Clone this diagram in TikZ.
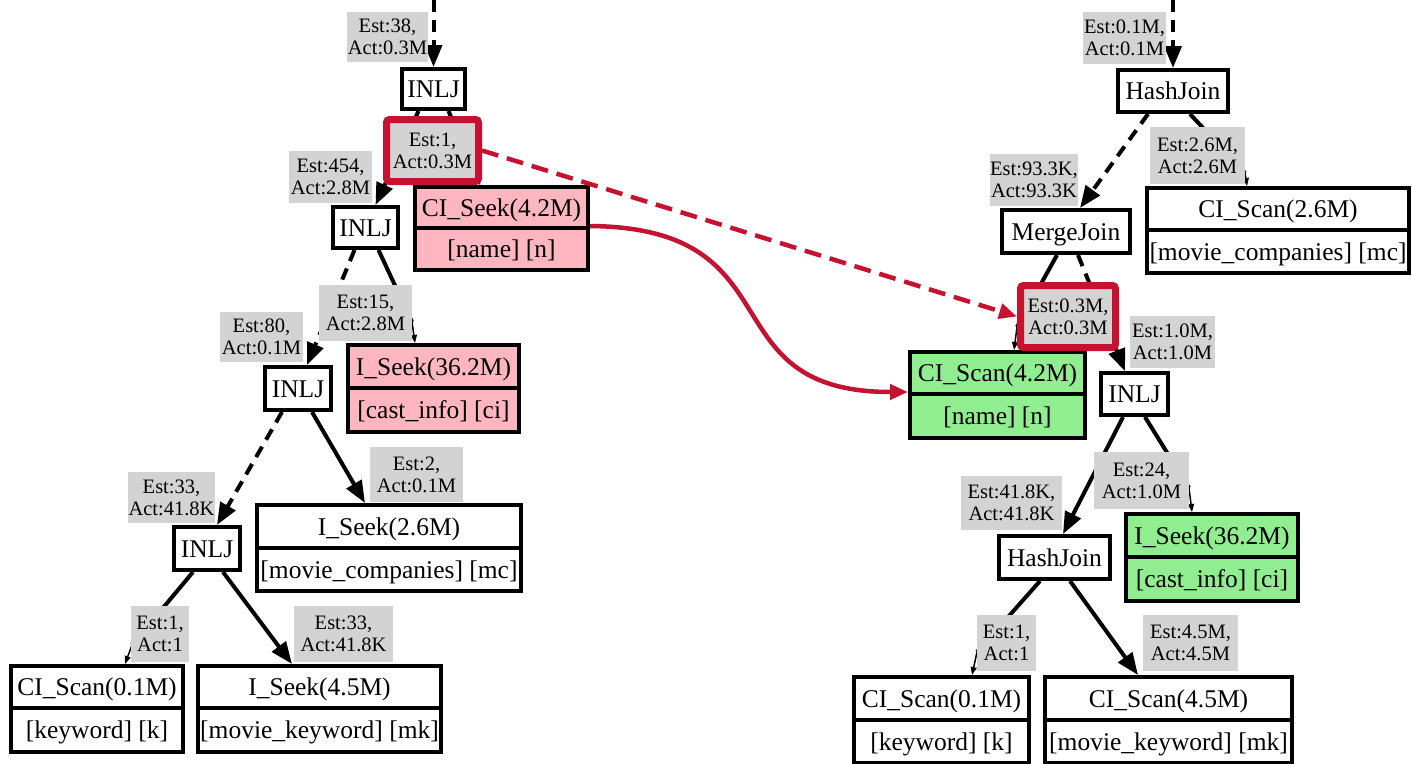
\documentclass[tikz,border=0pt]{standalone}
\usepackage{fontspec}
\setmainfont{Liberation Serif}
\usetikzlibrary{arrows.meta,backgrounds,calc}

\definecolor{pinkfill}{RGB}{255,182,193}
\definecolor{greenfill}{RGB}{144,238,144}
\definecolor{lgray}{RGB}{211,211,211}
\definecolor{hlred}{RGB}{196,18,48}

\tikzset{
  rowbox/.style={draw=black, line width=4pt, inner sep=0pt, outer sep=2pt,
    font=\fontsize{25.5}{29}\selectfont, text height=17.5pt, text depth=0pt},
  opbox/.style={rowbox, fill=white},
  estlab/.style={fill=lgray, inner sep=0pt, outer sep=0pt, align=center,
    font=\fontsize{20.5}{22}\selectfont},
  redlab/.style={estlab, draw=hlred, line width=7pt, rounded corners=3pt, outer sep=3.5pt},
  edge/.style={line width=4pt},
  dashedge/.style={edge, dash pattern=on 12pt off 8pt},
  bigtip/.style={-{Triangle[length=22pt,width=17pt]}},
  smalltip/.style={line width=1.5pt, -{Triangle[length=8pt,width=6pt]}},
  redarrow/.style={draw=hlred, line width=4.5pt, -{Triangle[length=18pt,width=15pt]}},
}

% two-row record box: name, fill, x1, y1, x2, y2 (outer edges), split y, row texts
\newcommand\leafnode[9]{%
  \node[rowbox, fill=#2, minimum width={#5-#3-4}, minimum height={#7-#4-2}]
    (#1) at ({(#3+#5)/2},{(#4+2+#7)/2}) {#8};
  \node[rowbox, fill=#2, minimum width={#5-#3-4}, minimum height={#6-2-#7}]
    (#1-b) at ({(#3+#5)/2},{(#7+#6-2)/2}) {#9};
}
% single operator box: name, x1, y1, x2, y2, text
\newcommand\opnode[6]{%
  \node[opbox, minimum width={#4-#2-4}, minimum height={#5-#3-4}]
    (#1) at ({(#2+#4)/2},{(#3+#5)/2}) {#6};
}
% grey cardinality label: name, x1, y1, x2, y2, text
\newcommand\estnode[6]{%
  \node[estlab, minimum width={#4-#2}, minimum height={#5-#3}]
    (#1) at ({(#2+#4)/2},{(#3+#5)/2}) {#6};
}
% highlighted cardinality label
\newcommand\rednode[6]{%
  \node[redlab, minimum width={#4-#2-7}, minimum height={#5-#3-7}]
    (#1) at ({(#2+#4)/2},{(#3+#5)/2}) {#6};
}

\begin{document}
\begin{tikzpicture}[x=1pt,y=-1pt]
\useasboundingbox (0,0) rectangle (1412,763);

% ---------- left plan ----------
\opnode{inlj1}{400}{67}{467}{111}{INLJ}
\opnode{inlj2}{331}{205}{400}{250}{INLJ}
\opnode{inlj3}{263}{365}{333}{412}{INLJ}
\opnode{inlj4}{172}{525}{242}{572}{INLJ}
\leafnode{cis}{pinkfill}{413}{185}{590}{272}{228}{CI\_Seek(4.2M)}{[name] [n]}
\leafnode{is362}{pinkfill}{346}{343}{521}{434}{388}{I\_Seek(36.2M)}{[cast\_info] [ci]}
\leafnode{is26}{white}{255}{503}{523}{593}{548}{I\_Seek(2.6M)}{[movie\_companies] [mc]}
\leafnode{csl}{white}{9}{664}{185}{754}{708}{CI\_Scan(0.1M)}{[keyword] [k]}
\leafnode{is45}{white}{196}{664}{443}{754}{708}{I\_Seek(4.5M)}{[movie\_keyword] [mk]}

\estnode{lb38}{347}{12}{428}{62}{Est:38,\\Act:0.3M}
\estnode{lb454}{289}{151}{372}{203}{Est:454,\\Act:2.8M}
\estnode{lb15}{319}{285}{412}{341}{Est:15,\\Act:2.8M}
\estnode{lb80}{220}{312}{303}{362}{Est:80,\\Act:0.1M}
\estnode{lb2}{370}{447}{463}{502}{Est:2,\\Act:0.1M}
\estnode{lb33a}{128}{472}{215}{523}{Est:33,\\Act:41.8K}
\estnode{lb1b}{131}{606}{189}{662}{Est:1,\\Act:1}
\estnode{lb33b}{294}{606}{393}{662}{Est:33,\\Act:41.8K}
\rednode{lb1}{383}{116}{482}{185}{Est:1,\\Act:0.3M}

% ---------- right plan ----------
\opnode{hj1}{1116}{68}{1230}{114}{HashJoin}
\opnode{mj}{1000}{208}{1132}{255}{MergeJoin}
\opnode{inljr}{1099}{371}{1170}{417}{INLJ}
\opnode{hj2}{997}{534}{1112}{581}{HashJoin}
\leafnode{cs26}{white}{1145}{186}{1411}{275}{230}{CI\_Scan(2.6M)}{[movie\_companies] [mc]}
\leafnode{csc4}{greenfill}{908}{350}{1087}{440}{394}{CI\_Scan(4.2M)}{[name] [n]}
\leafnode{gis362}{greenfill}{1124}{512}{1300}{603}{557}{I\_Seek(36.2M)}{[cast\_info] [ci]}
\leafnode{csr}{white}{852}{675}{1031}{765}{720}{CI\_Scan(0.1M)}{[keyword] [k]}
\leafnode{cs45}{white}{1043}{675}{1294}{765}{720}{CI\_Scan(4.5M)}{[movie\_keyword] [mk]}

\estnode{lr01}{1083}{12}{1166}{64}{Est:0.1M,\\Act:0.1M}
\estnode{lr26}{1150}{127}{1245}{184}{Est:2.6M,\\Act:2.6M}
\estnode{lr933}{990}{154}{1078}{206}{Est:93.3K,\\Act:93.3K}
\estnode{lr10}{1130}{316}{1215}{368}{Est:1.0M,\\Act:1.0M}
\estnode{lr24}{1094}{452}{1189}{509}{Est:24,\\Act:1.0M}
\estnode{lr418}{961}{476}{1062}{530}{Est:41.8K,\\Act:41.8K}
\estnode{lr1}{977}{615}{1036}{671}{Est:1,\\Act:1}
\estnode{lr45}{1143}{615}{1238}{671}{Est:4.5M,\\Act:4.5M}
\rednode{lr03}{1017}{282}{1119}{351}{Est:0.3M,\\Act:0.3M}

% free ends and bends of edges that pass behind their labels
\coordinate (inL) at (433.5,0);
\coordinate (inR) at (1173,0);
\coordinate (k3) at (478,182);
\coordinate (k5) at (412,322);
\coordinate (k8) at (132,645);
\coordinate (k3r) at (1245,173);
\coordinate (k4r) at (1017,327);
\coordinate (k7r) at (1189,488);
\coordinate (k8r) at (977,652);

\begin{pgfonlayer}{background}
  \fill[white] (0,0) rectangle (1412,763);
  % left plan edges
  \draw[dashedge,bigtip] (inL) -- (inlj1.north);
  \draw[edge,bigtip] ([xshift=-15pt]inlj1.south) -- ([xshift=10pt]inlj2.north);
  \draw[edge] ([xshift=15pt]inlj1.south) -- (k3);
  \draw[smalltip] (k3) -- ([xshift=-21pt]cis.north);
  \draw[dashedge,bigtip] ([xshift=-11pt]inlj2.south) -- ([xshift=9pt]inlj3.north);
  \draw[edge] ([xshift=13pt]inlj2.south) -- (k5);
  \draw[smalltip] (k5) -- ([xshift=-18.5pt]is362.north);
  \draw[dashedge,bigtip] ([xshift=-16pt]inlj3.south) -- ([xshift=10pt]inlj4.north);
  \draw[edge,bigtip] ([xshift=14pt]inlj3.south) -- ([xshift=-24pt]is26.north);
  \draw[edge] ([xshift=-14pt]inlj4.south) -- (k8);
  \draw[smalltip] (k8) -- ([xshift=28pt]csl.north);
  \draw[edge,bigtip] ([xshift=16pt]inlj4.south) -- ([xshift=-27.5pt]is45.north);
  % right plan edges
  \draw[dashedge,bigtip] (inR) -- (hj1.north);
  \draw[dashedge,bigtip] ([xshift=-25pt]hj1.south) -- ([xshift=14pt]mj.north);
  \draw[edge] ([xshift=17pt]hj1.south) -- (k3r);
  \draw[smalltip] (k3r) -- ([xshift=-31pt]cs26.north);
  \draw[edge] ([xshift=-9pt]mj.south) -- (k4r);
  \draw[smalltip] (k4r) -- ([xshift=16.5pt]csc4.north);
  \draw[dashedge,bigtip] ([xshift=12pt]mj.south) -- ([xshift=-9.5pt]inljr.north);
  \draw[edge,bigtip] ([xshift=-11.5pt]inljr.south) -- ([xshift=8.5pt]hj2.north);
  \draw[edge] ([xshift=10.5pt]inljr.south) -- (k7r);
  \draw[smalltip] (k7r) -- ([xshift=-20pt]gis362.north);
  \draw[edge] ([xshift=-14.5pt]hj2.south) -- (k8r);
  \draw[smalltip] (k8r) -- ([xshift=30.5pt]csr.north);
  \draw[edge,bigtip] ([xshift=15.5pt]hj2.south) -- ([xshift=-30.5pt]cs45.north);
\end{pgfonlayer}

% correspondence between the two plans
\draw[redarrow, dash pattern=on 17pt off 9pt] (lb1.east) -- (lr03.west);
\draw[redarrow] (cis-b.north east) .. controls (800,228) and (705,392) .. (csc4-b.north west);
\end{tikzpicture}
\end{document}
